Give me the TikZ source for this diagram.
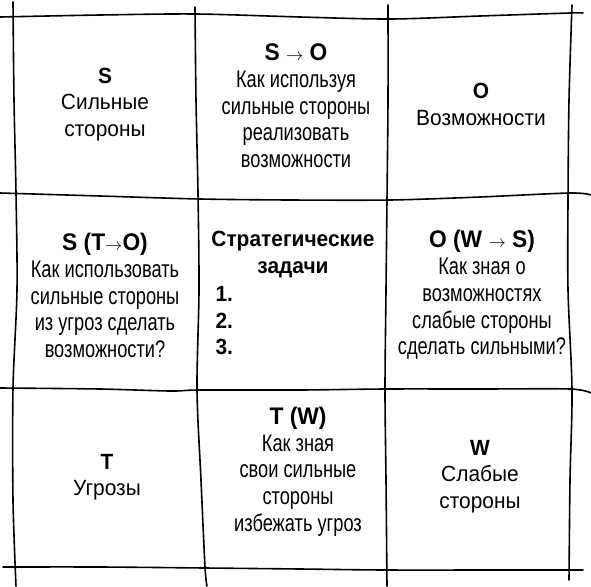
\documentclass[tikz,border=0pt]{standalone}
\usepackage{fontspec}
\setmainfont[FakeStretch=0.76]{Liberation Sans}
\newfontfamily\wide[FakeStretch=0.95]{Liberation Sans}
\newcommand{\ra}{{\fontsize{19}{19}\selectfont$\rightarrow$}}
\newcommand{\hd}[1]{{\wide\bfseries #1}}
\begin{document}
\begin{tikzpicture}[x=1pt,y=-1pt,
    cell/.style={align=center,font=\fontsize{24}{26.7}\selectfont},
    corner/.style={align=center,font=\wide\fontsize{22}{26.5}\selectfont},
    grid/.style={line width=1.6pt,line cap=round}]
  \useasboundingbox (0,0) rectangle (591,586);

  % hand drawn grid
  \draw[grid] plot[smooth] coordinates {(0,17) (100,15) (196,14) (300,17) (390,19) (480,16) (570,13) (583,13)};
  \draw[grid] plot[smooth] coordinates {(0,193) (100,196) (200,199) (290,200) (390,200) (480,197) (570,193) (591,195)};
  \draw[grid] plot[smooth] coordinates {(0,388) (100,389) (170,391) (200,390) (300,390) (385,389) (480,389) (570,389) (591,393)};
  \draw[grid] plot[smooth] coordinates {(3,567) (100,567) (205,568) (300,569) (385,570) (500,570) (583,570)};

  \draw[grid] plot[smooth] coordinates {(13,2) (14,100) (16,193) (17,290) (13,388) (13,500) (16,586)};
  \draw[grid] plot[smooth] coordinates {(195,7) (196,100) (198,193) (199,290) (197,390) (201,480) (205,567) (207,586)};
  \draw[grid] plot[smooth] coordinates {(388,5) (388,100) (387,200) (386,290) (385,390) (386,480) (387,586)};
  \draw[grid] plot[smooth] coordinates {(572,5) (569,100) (568,200) (568,290) (572,390) (570,480) (569,580)};

  % cells
  \node[corner] (s)   at (105,104.5) {\textbf{S}\\Сильные\\стороны};
  \node[cell]   (so)  at (296,106)   {\hd{S \ra{} O}\\Как используя\\сильные стороны\\реализовать\\возможности};
  \node[corner] (o)   at (481,104.5) {\textbf{O}\\Возможности};

  \node[cell]   (sto) at (105,295.5) {\hd{S (T\ra O)}\\Как использовать\\сильные стороны\\из угроз сделать\\возможности?};
  \node[corner] (tasks) at (293,254.5) {\textbf{Стратегические}\\\textbf{задачи}};
  \node[corner,align=left,anchor=west] (list) at (212,321) {\textbf{1.}\\\textbf{2.}\\\textbf{3.}};
  \node[cell]   (ows) at (482,295)   {\hd{O (W \ra{} S)}\\Как зная о\\возможностях\\слабые стороны\\сделать сильными?};

  \node[corner] (t)   at (107,477)   {\textbf{T}\\Угрозы};
  \node[cell]   (tw)  at (298,471.5) {\hd{T (W)}\\Как зная\\свои сильные\\стороны\\избежать угроз};
  \node[corner] (w)   at (480,476.5) {\textbf{W}\\Слабые\\стороны};
\end{tikzpicture}
\end{document}
